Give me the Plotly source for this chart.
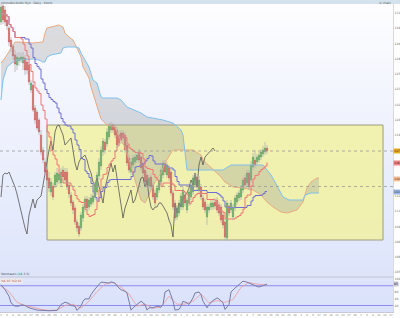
import plotly.graph_objects as go
import pandas as pd

# ---------------- data ----------------
open_ = [129.8,131.4,131.0,130.0,129.2,128.0,127.4,126.5,125.5,125.9,
         126.0,125.7,126.2,125.8,125.5,123.0,123.5,121.2,120.8,120.0,
         118.5,117.0,115.8,115.0,114.2,112.8,113.4,113.5,113.8,114.0,
         113.7,115.0,114.8,114.8,113.5,112.5,111.8,111.2,109.8,109.4,
         109.2,110.2,111.2,112.1,111.3,111.6,111.8,112.3,112.8,114.4,
         115.4,116.8,117.8,117.6,118.3,119.0,119.5,119.3,119.0,118.5,
         118.7,118.7,118.5,117.5,116.2,114.8,115.5,115.8,116.0,116.8,
         116.3,115.7,115.0,114.5,113.4,114.3,113.5,112.7,112.3,113.0,
         113.8,114.5,115.7,114.5,115.2,114.8,112.7,111.7,110.3,110.7,
         111.3,111.3,112.5,111.0,111.7,112.3,112.8,113.5,114.3,113.0,
         113.3,112.2,111.8,110.3,111.0,111.3,111.3,111.8,112.0,111.5,
         111.3,110.5,109.8,108.2,111.4,111.0,110.3,111.2,111.8,112.2,
         112.3,113.0,114.2,113.7,114.7,114.0,115.3,116.0,115.8,116.0,
         116.3,116.6,116.8,117.2]
close = [131.3,130.0,129.8,129.4,127.8,127.3,126.4,125.6,126.3,126.2,
         126.3,126.3,125.0,125.0,123.8,123.7,121.0,120.0,119.2,118.8,
         116.8,116.0,114.8,114.0,113.2,113.8,112.3,114.5,114.7,114.6,
         114.8,114.3,114.0,113.3,112.6,111.7,111.0,109.8,109.2,108.6,
         110.5,111.3,112.1,111.2,112.0,112.2,112.4,113.5,114.5,115.8,
         117.0,117.9,117.0,118.8,119.4,119.5,119.0,118.5,117.5,117.7,
         118.0,118.2,117.0,115.7,115.0,115.8,116.2,116.3,116.5,116.0,
         115.2,114.7,113.8,113.5,114.2,113.3,112.3,111.7,113.2,114.0,
         115.0,115.7,114.8,115.5,114.2,112.7,111.3,110.2,111.2,111.7,
         112.4,113.0,111.7,112.0,112.8,113.5,114.2,114.3,113.3,114.0,
         112.3,111.3,111.0,111.3,111.3,111.7,111.7,111.4,111.0,110.7,
         110.0,109.5,108.3,111.7,110.7,111.7,111.3,112.2,112.5,112.7,
         113.2,114.0,113.5,114.7,113.3,115.5,116.3,115.5,116.3,116.5,
         116.8,117.0,117.2,116.9]
high = [131.7,131.7,131.4,130.4,129.4,128.3,127.6,127.0,126.7,126.8,
        126.7,126.8,126.5,126.2,125.8,124.0,123.8,121.5,121.0,120.2,
        119.0,117.3,116.2,115.4,114.8,114.2,113.7,114.8,115.2,115.0,
        115.2,115.4,115.2,115.2,113.8,112.8,112.0,111.5,110.1,109.7,
        110.8,111.6,112.4,112.4,112.3,112.6,112.8,113.8,114.8,116.2,
        117.4,118.2,118.1,119.2,119.7,119.8,119.7,119.6,119.3,118.9,
        119.0,119.0,118.8,117.8,116.5,116.2,116.5,116.6,116.8,117.1,
        116.6,116.0,115.3,114.8,114.5,114.6,113.8,113.0,113.5,114.3,
        115.3,116.0,116.0,115.8,115.5,115.1,113.0,112.0,111.5,112.0,
        112.7,113.3,112.8,112.3,113.1,113.8,114.5,114.6,114.6,114.4,
        113.6,112.5,112.1,111.6,111.6,112.0,112.0,112.2,112.3,111.8,
        111.6,110.8,110.1,112.0,111.7,112.0,111.6,112.5,112.8,113.0,
        113.5,114.3,114.5,115.0,115.0,115.9,116.7,117.0,116.6,116.8,
        117.1,117.4,117.8,117.5]
low = [129.5,129.6,129.4,129.0,127.4,126.8,126.0,124.8,125.0,125.4,
       125.7,125.0,124.5,124.6,123.5,122.7,120.8,119.6,119.0,118.5,
       116.5,115.7,114.4,113.6,112.8,112.4,112.0,113.2,113.4,113.6,
       113.4,114.0,113.7,113.0,112.2,111.4,110.6,109.5,108.8,108.3,
       108.9,109.8,110.8,110.9,111.0,111.3,111.5,112.0,112.5,114.0,
       115.0,116.4,116.6,117.3,118.0,118.7,118.7,118.2,117.2,117.4,
       117.6,117.9,116.7,115.4,114.7,114.5,115.2,115.5,115.7,115.7,
       114.9,114.4,113.5,113.2,113.1,113.0,112.0,111.4,112.0,112.7,
       113.5,114.2,114.5,114.2,113.9,112.4,111.0,109.9,110.0,110.4,
       111.0,111.0,111.4,110.7,111.4,112.0,112.5,113.2,113.0,112.7,
       112.0,111.0,110.7,109.5,110.7,111.0,111.0,111.1,110.7,110.4,
       109.7,109.2,108.0,107.9,110.4,110.7,110.0,110.9,111.5,111.9,
       112.0,112.7,113.2,113.4,113.0,113.7,115.0,115.2,115.5,115.7,
       116.0,116.3,116.5,116.6]
idx = list(range(len(close)))

# Senkou span A (orange) and span B (light blue) (bar index, price)
spanA_idx = [0,2,7,9,16,21,22,23,25,29,31,32,34,36,38,40,41,44,45,47,49,50,53,57,59,62,64,66,68,70,
             72,75,77,80,82,85,86,91,96,100,101,110,112,116,121,126,130,133,136,140,143,148,151,153,155,158,159]
spanA = [125.7,126.2,127.8,127.8,127.7,127.8,128.7,129.2,129.3,129.5,129.3,128.7,128.3,128.0,127.2,126.3,125.3,124.2,123.3,122.0,
         120.7,120.1,119.5,119.3,118.3,117.3,116.0,114.7,113.3,112.0,111.7,113.0,113.8,114.7,115.7,116.7,117.0,117.0,117.0,116.5,
         116.0,114.3,113.8,113.3,113.2,113.0,112.5,111.8,111.3,110.8,110.7,111.0,111.8,113.2,113.8,114.2,114.2]
spanB_idx = [0,1,3,6,8,13,16,19,21,22,23,25,30,31,33,37,39,40,42,44,46,48,50,51,58,60,63,70,73,76,
             81,86,90,91,92,93,100,111,115,121,131,133,135,137,139,141,144,151,152,155,159]
spanB = [122.0,124.0,125.3,125.8,126.0,126.1,126.1,126.0,125.8,125.8,126.3,126.5,126.7,127.2,127.3,127.3,127.2,126.7,126.0,125.3,
         124.0,123.7,122.3,122.2,122.2,122.0,121.3,120.7,120.3,120.2,120.0,119.7,119.0,118.5,117.0,115.0,115.0,115.0,115.5,115.5,
         115.5,115.0,114.5,113.8,113.0,112.3,112.0,112.0,112.5,112.7,112.7]

# Oscillator (0-100) and its signal line
osc_idx = [0,2,4,5,7,9,10,12,14,15,18,21,24,28,29,30,32,34,35,37,38,40,41,42,44,45,47,49,50,52,
           54,55,57,59,60,62,63,64,65,66,68,70,72,73,74,76,78,80,81,82,84,85,86,87,89,90,91,93,94,96,
           97,99,100,101,103,104,106,108,109,111,112,114,115,117,119,120,121,123,124,126,128,129,131,133]
osc_val = [83,68,48,28,18,18,22,20,13,11,6,5,4,5,13,23,30,26,20,18,5,18,33,40,40,53,70,83,91,90,
           88,92,88,73,68,63,58,33,6,13,23,33,23,6,13,13,18,15,23,61,68,53,33,6,8,18,33,28,23,43,
           58,61,53,33,13,23,35,43,40,28,8,23,61,73,83,90,94,91,88,83,78,76,80,85]
sig_idx = [0,4,8,12,16,20,24,28,32,36,40,44,48,52,56,60,64,68,72,76,80,84,88,92,96,100,104,108,112,116,120,124,128,133]
sig_val = [80,62,30,20,15,8,5,6,20,24,12,33,62,85,90,76,55,18,24,12,15,48,24,24,33,55,28,35,30,38,75,90,85,82]
osc_levels = [80, 20]

# annotated zone and reference levels
zone_x = [23, 191]
zone_y = [108.0, 119.5]
ref_levels = [116.9, 113.35]
spanA_label = 114.1

day_labels = [str(d) for d in [2,5,8,11,14,17,20,23,26,29,1,4,7,10,13,16,19,22,25,28,3,6,9,12,15,18,21,24,27,30,
                               2,5,8,11,14,17,20,23,26,29,1,4,7,10,13,16,19,22,25,28,3,6,9,12,15,18,21,24,27,30,
                               2,5,8,11,14,17]]

# ---------------- indicators ----------------
H = pd.Series(high); L = pd.Series(low)
tenkan = ((H.rolling(9, min_periods=1).max() + L.rolling(9, min_periods=1).min()) / 2).tolist()
kijun = ((H.rolling(26, min_periods=1).max() + L.rolling(26, min_periods=1).min()) / 2).tolist()
chikou_x = idx[:-26]
chikou_y = close[26:]

# ---------------- figure ----------------
W, Hpx = 400, 318
mt, mb, ml, mr = 4, 6, 0, 7
ph = Hpx - mt - mb
osc_top = (312 - 277) / ph

fig = go.Figure()

fig.add_trace(go.Scatter(x=spanA_idx, y=spanA, mode='lines', line=dict(color='#e8ab80', width=1),
                         hoverinfo='skip', showlegend=False))
fig.add_trace(go.Scatter(x=spanB_idx, y=spanB, mode='lines', line=dict(color='#80c0ec', width=1),
                         fill='tonexty', fillcolor='rgba(150,150,150,0.30)', hoverinfo='skip', showlegend=False))
fig.add_trace(go.Scatter(x=chikou_x, y=chikou_y, mode='lines', line=dict(color='#555555', width=0.8),
                         showlegend=False))
fig.add_trace(go.Scatter(x=idx, y=kijun, mode='lines', line=dict(color='#6e6ed2', width=1, shape='hv'),
                         showlegend=False))
fig.add_trace(go.Scatter(x=idx, y=tenkan, mode='lines', line=dict(color='#f07474', width=1, shape='hv'),
                         showlegend=False))

wx, wy = [], []
for i, h, l in zip(idx, high, low):
    wx += [i, i, None]
    wy += [l, h, None]
fig.add_trace(go.Scatter(x=wx, y=wy, mode='lines', line=dict(color='#b4b4b4', width=0.8), showlegend=False))

body_hi = [max(o, c) for o, c in zip(open_, close)]
body_lo = [min(o, c) for o, c in zip(open_, close)]
fig.add_trace(go.Candlestick(x=idx, open=open_, high=body_hi, low=body_lo, close=close,
                             increasing=dict(line=dict(color='#2a962a', width=0.5), fillcolor='#34a834'),
                             decreasing=dict(line=dict(color='#dc2620', width=0.5), fillcolor='#ea3228'),
                             whiskerwidth=0, showlegend=False))

fig.add_trace(go.Scatter(x=sig_idx, y=sig_val, mode='lines', line=dict(color='#ec9a9a', width=0.8),
                         xaxis='x2', yaxis='y2', showlegend=False))
fig.add_trace(go.Scatter(x=osc_idx, y=osc_val, mode='lines', line=dict(color='#7a7aa6', width=1),
                         xaxis='x2', yaxis='y2', showlegend=False))

# background gradient
shapes = []
n = 40
top = (253, 253, 255); bot = (218, 226, 250)
for k in range(n):
    t = k / (n - 1)
    c = tuple(round(bot[j] + (top[j] - bot[j]) * t) for j in range(3))
    shapes.append(dict(type='rect', xref='paper', yref='paper', x0=0, x1=1, y0=k / n, y1=(k + 1) / n + 0.002,
                       fillcolor='rgb(%d,%d,%d)' % c, line=dict(width=0), layer='below'))
# header bar
shapes.append(dict(type='rect', xref='paper', yref='paper', x0=0, x1=1 + mr / (W - ml - mr), y0=1, y1=1 + mt / ph,
                   fillcolor='#d3e2ec', line=dict(width=0), layer='below'))
# yellow zone
shapes.append(dict(type='rect', xref='x', yref='y', x0=zone_x[0], x1=zone_x[1], y0=zone_y[0], y1=zone_y[1],
                   fillcolor='rgba(242,242,158,0.82)', line=dict(color='#9c9c80', width=1), layer='below'))
for lv in ref_levels:
    shapes.append(dict(type='line', xref='paper', yref='y', x0=0, x1=1, y0=lv, y1=lv,
                       line=dict(color='#9a9a9a', width=0.8, dash='dot'), layer='above'))
for lv in osc_levels:
    shapes.append(dict(type='line', xref='paper', yref='y2', x0=0, x1=1, y0=lv, y1=lv,
                       line=dict(color='#8a8af0', width=1), layer='below'))
shapes.append(dict(type='line', xref='paper', yref='paper', x0=0, x1=1, y0=osc_top, y1=osc_top,
                   line=dict(color='#c4c4d4', width=1), layer='below'))

annotations = [
    dict(xref='paper', yref='paper', x=0.0, y=1 + mt / ph, xanchor='left', yanchor='top', showarrow=False,
         text='Ichimoku Kinko Hyo · Daily · Stock', font=dict(size=3, color='#555'), borderpad=0),
    dict(xref='paper', yref='paper', x=1.0, y=1 + mt / ph, xanchor='right', yanchor='top', showarrow=False,
         text='© chart', font=dict(size=3, color='#555'), borderpad=0),
    dict(xref='paper', yref='paper', x=0.0, y=osc_top, xanchor='left', yanchor='bottom', showarrow=False,
         text='Stochastic (14,3,3)', font=dict(size=3, color='#444'), borderpad=0),
    dict(xref='paper', yref='paper', x=0.0, y=osc_top - 0.004, xanchor='left', yanchor='top', showarrow=False,
         text='%K 85 %D 82', font=dict(size=3, color='#c05050'), bgcolor='#eeeeee', borderpad=0),
]
labels = [(close[-1], '#e2b41c'), (tenkan[-1], '#f08a8a'), (spanA_label, '#f2c2a2'), (kijun[-1], '#9cb4f2')]
for v, col in labels:
    annotations.append(dict(xref='paper', yref='y', x=1.0, y=v, xanchor='left', yanchor='middle', showarrow=False,
                            text='%.0f' % v, font=dict(size=3, color='#222'), bgcolor=col, borderpad=0))
annotations.append(dict(xref='paper', yref='y2', x=1.0, y=osc_val[-1], xanchor='left', yanchor='middle',
                        showarrow=False, text=str(osc_val[-1]), font=dict(size=3, color='#222'),
                        bgcolor='#c8c8d8', borderpad=0))

# price axis ticks (every grid step), skipping those hidden under the value boxes
tick_prices = [130.7 - 1.525 * k for k in range(18)]
box_vals = [v for v, _ in labels]
tick_prices = [t for t in tick_prices if all(abs(t - b) > 0.45 for b in box_vals)]
osc_ticks = [t for t in [20, 40, 60, 80, 100] if abs(t - osc_val[-1]) > 8]

fig.update_layout(
    width=W, height=Hpx, margin=dict(l=ml, r=mr, t=mt, b=mb),
    paper_bgcolor='#ffffff', plot_bgcolor='rgba(0,0,0,0)', boxgap=0.12,
    showlegend=False, shapes=shapes, annotations=annotations,
    font=dict(family='DejaVu Sans', size=3, color='#666'),
    xaxis=dict(domain=[0, 1], range=[-0.5, 196], anchor='y', showticklabels=False, showgrid=False,
               zeroline=False, rangeslider=dict(visible=False), showline=False),
    yaxis=dict(domain=[osc_top, 1], range=[104.3, 131.6], side='right', showgrid=False, zeroline=False,
               tickvals=tick_prices, ticktext=['%.0f' % t for t in tick_prices], ticks='',
               ticklabelstandoff=0, tickfont=dict(size=3, color='#666'),
               showline=True, linecolor='#d8d8d8', automargin=False),
    xaxis2=dict(domain=[0, 1], range=[-0.5, 196], anchor='y2', matches='x', showgrid=False, zeroline=False,
                tickvals=list(range(0, 196, 3)), ticktext=day_labels, ticks='',
                tickfont=dict(size=2.6, color='#777'), automargin=False, tickangle=0,
                ticklabelstandoff=0, showline=True, linecolor='#c8c8d8'),
    yaxis2=dict(domain=[0, osc_top], range=[0.2, 106.6], side='right', showgrid=False, zeroline=False,
                tickvals=osc_ticks, ticks='', ticklabelstandoff=0, tickfont=dict(size=3, color='#666'),
                showline=True, linecolor='#d8d8d8', automargin=False),
)

fig.write_html('out.html')
